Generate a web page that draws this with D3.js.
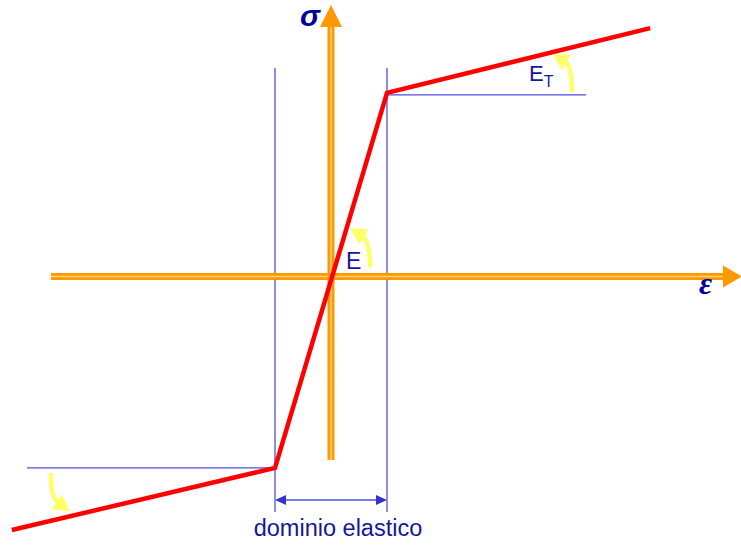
<!DOCTYPE html>
<html><head><meta charset="utf-8">
<script src="https://cdn.jsdelivr.net/npm/d3@7"></script>
<style>html,body{margin:0;padding:0;background:#fff;overflow:hidden}</style>
</head><body>
<svg id="chart" width="741" height="546"></svg>
<script>
// Bilinear (elastic - linear hardening) stress-strain law, arbitrary units
const strain = [-5.7, -1.0, 1.0, 5.7];
const stress = [-1.352, -1.021, 0.979, 1.325];
const yieldStrain = [-1.0, 1.0];
const axisLabels = ["σ", "ε"];
const labelE = "E";
const labelET = ["E", "T"];
const domainLabel = "dominio elastico";

const svg = d3.select("#chart");
const x = d3.scaleLinear().domain([0, 1]).range([331, 387]);
const y = d3.scaleLinear().domain([0, 1]).range([276.5, 89]);

const orange = "#FF9900", pale = "#FFD27A", red = "#FF0000", blue = "#4F4FE0", navy = "#16169C", yellow = "#FFFF66";

// blue reference lines
const xl = x(yieldStrain[0]), xr = x(yieldStrain[1]);
const yTop = 68, yBot = 512;
svg.append("line").attr("x1", xl).attr("x2", xl).attr("y1", yTop).attr("y2", yBot).attr("stroke", blue).attr("stroke-width", 1.3);
svg.append("line").attr("x1", xr).attr("x2", xr).attr("y1", yTop).attr("y2", yBot).attr("stroke", blue).attr("stroke-width", 1.3);
svg.append("line").attr("x1", 27).attr("x2", x(strain[1])).attr("y1", y(stress[1])).attr("y2", y(stress[1])).attr("stroke", blue).attr("stroke-width", 1.3);
svg.append("line").attr("x1", x(strain[2])).attr("x2", 586).attr("y1", y(stress[2]) + 2).attr("y2", y(stress[2]) + 2).attr("stroke", blue).attr("stroke-width", 1.3);

// axes (double orange)
function axisLine(x1, y1, x2, y2) {
  svg.append("line").attr("x1", x1).attr("y1", y1).attr("x2", x2).attr("y2", y2).attr("stroke", orange).attr("stroke-width", 7);
  svg.append("line").attr("x1", x1).attr("y1", y1).attr("x2", x2).attr("y2", y2).attr("stroke", pale).attr("stroke-width", 1.5);
}
const x0 = x(0), y0 = y(0);
axisLine(51, y0, 724, y0);
axisLine(x0, 460, x0, 26);
svg.append("path").attr("d", `M${x0},5 L${x0 - 11},27 L${x0 + 11},27 Z`).attr("fill", orange);
svg.append("path").attr("d", `M742,${y0} L723,${y0 - 11} L723,${y0 + 11} Z`).attr("fill", orange);

// stress-strain line
const line = d3.line().x((d, i) => x(strain[i])).y((d, i) => y(stress[i]));
svg.append("path").attr("d", line(strain)).attr("fill", "none").attr("stroke", red).attr("stroke-width", 4.5).attr("stroke-linejoin", "miter");

// dimension arrow
const yd = 500;
svg.append("line").attr("x1", xl + 9).attr("x2", xr - 9).attr("y1", yd).attr("y2", yd).attr("stroke", blue).attr("stroke-width", 1.6);
svg.append("path").attr("d", `M${xl},${yd} L${xl + 11},${yd - 5} L${xl + 11},${yd + 5} Z`).attr("fill", "#3333CC");
svg.append("path").attr("d", `M${xr},${yd} L${xr - 11},${yd - 5} L${xr - 11},${yd + 5} Z`).attr("fill", "#3333CC");

// yellow curved arrows
function curvedArrow(sx, sy, cx, cy, tx, ty) {
  const dx = tx - cx, dy = ty - cy, L = Math.hypot(dx, dy);
  const ux = dx / L, uy = dy / L, hl = 16, hw = 9;
  const bx = tx - ux * hl, by = ty - uy * hl;
  svg.append("path").attr("d", `M${sx},${sy} Q${cx},${cy} ${bx + ux * 2},${by + uy * 2}`)
    .attr("fill", "none").attr("stroke", yellow).attr("stroke-width", 4.5);
  svg.append("path").attr("d", `M${tx},${ty} L${bx - uy * hw},${by + ux * hw} L${bx + uy * hw},${by - ux * hw} Z`).attr("fill", yellow);
}
curvedArrow(x0 + 39, y0 - 9, x0 + 39, y0 - 36, x0 + 19, y0 - 48);
const xr0 = x(strain[2]), yr0 = y(stress[2]);
curvedArrow(xr0 + 185, yr0 - 1, xr0 + 185, yr0 - 27, xr0 + 166, yr0 - 39);
const xl0 = x(strain[1]), yl0 = y(stress[1]);
curvedArrow(xl0 - 224, yl0 + 5, xl0 - 225, yl0 + 29, xl0 - 205, yl0 + 43);

// labels
const sans = "'Liberation Sans', Arial, sans-serif";
svg.append("text").attr("x", x0 + 15).attr("y", y0 - 8).attr("font-family", sans).attr("font-size", 23).attr("fill", navy).text(labelE);
const et = svg.append("text").attr("x", xr0 + 142).attr("y", yr0 - 12).attr("font-family", sans).attr("font-size", 22).attr("fill", navy);
et.append("tspan").text(labelET[0]);
et.append("tspan").attr("dy", 6).attr("font-size", 16).text(labelET[1]);
svg.append("text").attr("x", (xl + xr) / 2 + 7).attr("y", 536).attr("text-anchor", "middle").attr("font-family", sans).attr("font-size", 23.5).attr("fill", navy).text(domainLabel);
svg.append("text").attr("x", 300).attr("y", 26).attr("font-family", sans).attr("font-style", "italic").attr("font-weight", "bold").attr("font-size", 30).attr("fill", "#000099").text(axisLabels[0]);
const serif = "'Liberation Serif', 'Times New Roman', serif";
svg.append("text").attr("x", 699).attr("y", 294).attr("font-family", serif).attr("font-style", "italic").attr("font-weight", "bold").attr("font-size", 32).attr("fill", "#000099").text(axisLabels[1]);
</script>
</body></html>
